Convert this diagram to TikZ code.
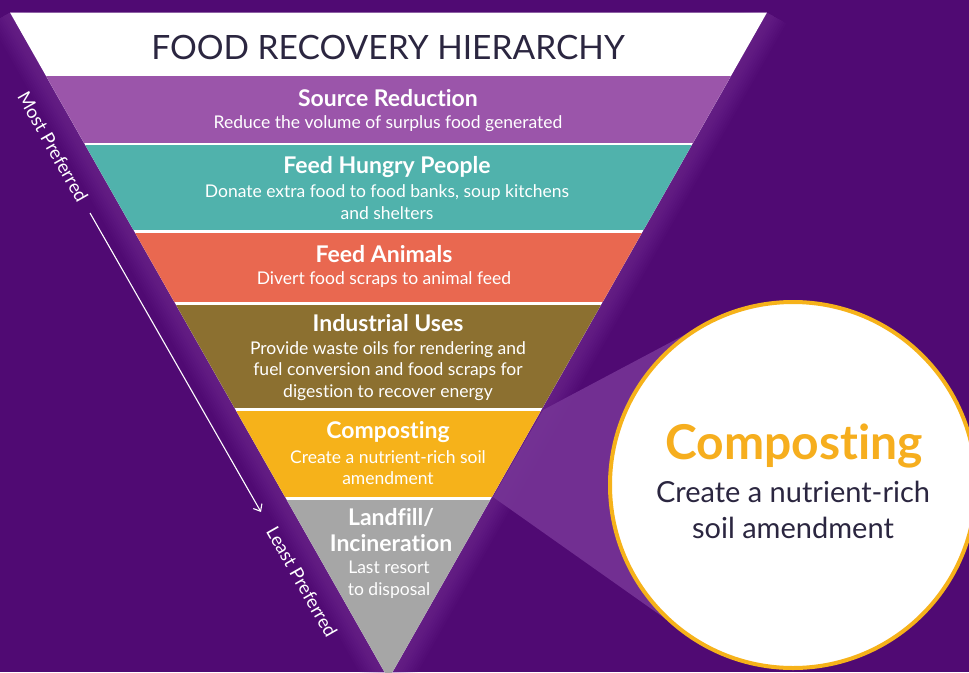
\documentclass[tikz,border=0pt]{standalone}
\usepackage{fontspec}
\setmainfont{Lato}[Ligatures=CommonOff]
\usetikzlibrary{arrows.meta,calc}
\definecolor{bgpurple}{RGB}{80,10,115}
\definecolor{glowc}{RGB}{135,65,165}
\definecolor{beamc}{RGB}{118,52,150}
\definecolor{bandpurple}{RGB}{155,85,170}
\definecolor{bandteal}{RGB}{80,178,172}
\definecolor{bandred}{RGB}{233,104,80}
\definecolor{bandbrown}{RGB}{140,112,48}
\definecolor{bandyellow}{RGB}{246,178,26}
\definecolor{bandgray}{RGB}{166,166,166}
\definecolor{darktext}{RGB}{43,38,64}
\definecolor{compost}{RGB}{246,174,30}
\begin{document}
\begin{tikzpicture}[x=1pt,y=-1pt,
  head/.style={text=white,font=\fontsize{23}{26}\selectfont\bfseries,align=center,inner sep=0pt},
  sub/.style={text=white,font=\fontsize{17.5}{21.5}\selectfont,align=center,inner sep=0pt},
  side/.style={text=white,font=\fontsize{18.5}{20}\selectfont,rotate=-60.4,inner sep=0pt},
  band/.style={fill=#1}]
\useasboundingbox (0,0) rectangle (969,672);
\clip (0,0) rectangle (969,672);
\fill[bgpurple] (0,0) rectangle (969,672);
\coordinate (TL) at (10,12.5);
\coordinate (TR) at (767,12.5);
\coordinate (P) at (388.5,679);
% glow along slanted edges
\begin{scope}
  \clip (0,12.5) rectangle (969,672);
  \foreach \w in {4,8,...,44}
    \draw[glowc,opacity=0.05,line width=\w pt,line join=round] (TL) -- (P) -- (TR);
\end{scope}
% magnifier beam
\coordinate (BY1) at (543,410);
\coordinate (BY2) at (493,497);
\coordinate (C) at (793,485);
\fill[beamc,opacity=0.9] (BY1) -- (707,323) -- (C) -- (687,634) -- (BY2) -- cycle;
% triangle with bands
\fill[white] (TL) -- (TR) -- (P) -- cycle;
\begin{scope}
  \clip (TL) -- (TR) -- (P) -- cycle;
  \fill[band=bandpurple] (0,76) rectangle (969,142.5);
  \fill[band=bandteal] (0,145) rectangle (969,230);
  \fill[band=bandred] (0,232.5) rectangle (969,302);
  \fill[band=bandbrown] (0,304.5) rectangle (969,408);
  \fill[band=bandyellow] (0,410.5) rectangle (969,497);
  \fill[band=bandgray] (0,499.5) rectangle (969,680);
\end{scope}
% texts
\node[text=darktext,font=\fontsize{33.5}{36}\selectfont,inner sep=0pt] (title) at (388,47) {FOOD RECOVERY HIERARCHY};
\node[head] (h1) at (388,98) {Source Reduction};
\node[sub] (s1) at (388,124) {Reduce the volume of surplus food generated};
\node[head] (h2) at (387,167) {Feed Hungry People};
\node[sub] (s2) at (387,202) {Donate extra food to food banks, soup kitchens\\and shelters};
\node[head] (h3) at (384,254) {Feed Animals};
\node[sub] (s3) at (384,280) {Divert food scraps to animal feed};
\node[head] (h4) at (388,323) {Industrial Uses};
\node[sub] (s4) at (388,371) {Provide waste oils for rendering and\\fuel conversion and food scraps for\\digestion to recover energy};
\node[head] (h5) at (388,432) {Composting};
\node[sub] (s5) at (388,467.5) {Create a nutrient-rich soil\\amendment};
\node[head] (h6) at (391,530) {Landfill/\\Incineration};
\node[sub] (s6) at (389,579.5) {Last resort\\to disposal};
% preference arrow
\node[side] (most) at (53,147) {Most Preferred};
\node[side] (least) at (302,582) {Least Preferred};
\coordinate (a1) at (90,213);
\coordinate (a2) at (261,512);
\draw[white,line width=1.1pt,-{Straight Barb[length=6pt,width=10pt,line width=1.1pt]}] (a1) -- (a2);
% magnifier circle
\node[circle,fill=white,draw=bandyellow,line width=4pt,minimum size=366pt,inner sep=0pt] (mag) at (C) {};
\node[text=compost,font=\fontsize{48}{50}\selectfont\bfseries,inner sep=0pt] (ctitle) at (794,446) {Composting};
\node[text=darktext,font=\fontsize{29}{36}\selectfont,align=center,inner sep=0pt] (ctext) at (793,510) {Create a nutrient-rich\\soil amendment};
\end{tikzpicture}
\end{document}
